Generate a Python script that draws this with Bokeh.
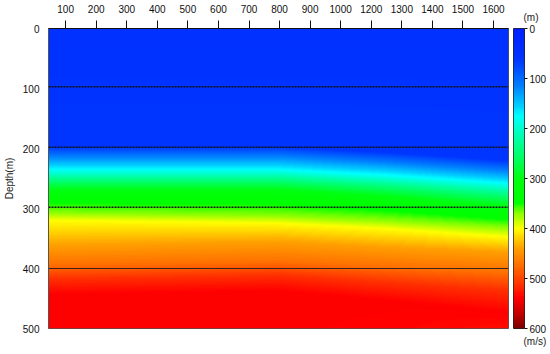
import numpy as np
from bokeh.plotting import figure
from bokeh.models import Range1d, LinearColorMapper, FixedTicker, Title, Span
from bokeh.layouts import row
from bokeh.embed import file_html
from bokeh.resources import INLINE

# ---------------- data ----------------
x_tick_values = [100, 200, 300, 400, 500, 600, 700, 800, 900, 1000, 1100, 1200, 1300, 1400, 1500]
x_tick_labels = ["100", "200", "300", "400", "500", "600", "700", "800", "900", "1000",
                 "1200", "1300", "1400", "1500", "1600"]
depth_ticks = [0, 100, 200, 300, 400, 500]
cbar_ticks = [0, 100, 200, 300, 400, 500, 600]
x_extent = [44, 1549]
depth_extent = [0, 500]
cbar_extent = [0, 600]

# interfaces (dashed) and the solid one
dashed_interfaces = [97, 198, 298]
solid_interfaces = [400]

# velocity field: depth at which each colour level is reached, at several x nodes
node_x = [44, 800, 1150, 1549]
levels = [60, 114, 174, 260, 330, 370, 400, 440, 474, 514, 540]
depth_node_a = [197, 213, 235, 257, 278, 307, 320, 362, 395, 418, 444]
depth_node_b = [197, 213, 235, 257, 278, 312, 325, 356, 390, 412, 438]
depth_node_c = [206, 223, 244, 267, 290, 320, 334, 365, 398, 424, 454]
depth_node_d = [220, 237, 258, 282, 308, 332, 348, 373, 408, 437, 475]
top_value = 50
bottom_values = [540, 540, 538, 532]

# palette stops (fraction, colour)
stop_pos = [0.0, 0.10, 0.19, 0.257, 0.29, 0.357, 0.433, 0.50, 0.58, 0.613, 0.667,
            0.733, 0.79, 0.857, 0.90, 0.957, 1.0]
stop_col = ["#0020ff", "#0035ff", "#0080ff", "#00d0ff", "#00ffff", "#00ffb0", "#00ff60",
            "#00ff10", "#00ff00", "#80ff00", "#ffff00", "#ffa000", "#ff7000", "#ff3000",
            "#ff0000", "#c00000", "#800000"]

# ---------------- build palette ----------------
def hex2rgb(h):
    return [int(h[i:i + 2], 16) for i in (1, 3, 5)]

rgb = np.array([hex2rgb(c) for c in stop_col], dtype=float)
t = np.linspace(0, 1, 256)
pal = []
for ti in t:
    r = np.interp(ti, stop_pos, rgb[:, 0])
    g = np.interp(ti, stop_pos, rgb[:, 1])
    b = np.interp(ti, stop_pos, rgb[:, 2])
    pal.append("#%02x%02x%02x" % (int(round(r)), int(round(g)), int(round(b))))

mapper = LinearColorMapper(palette=pal, low=cbar_extent[0], high=cbar_extent[1])

# ---------------- build the field image ----------------
nx, ny = 460, 300
xs = np.linspace(x_extent[0], x_extent[1], nx)
ds = np.linspace(depth_extent[0], depth_extent[1], ny)
node_depths = np.array([depth_node_a, depth_node_b, depth_node_c, depth_node_d], dtype=float)
field = np.zeros((ny, nx))
for j, xv in enumerate(xs):
    cd = [np.interp(xv, node_x, node_depths[:, k]) for k in range(len(levels))]
    bv = np.interp(xv, node_x, bottom_values)
    dd = [depth_extent[0]] + cd + [depth_extent[1]]
    vv = [top_value] + levels + [bv]
    field[:, j] = np.interp(ds, dd, vv)

FONT = "Liberation Sans"

# ---------------- main figure ----------------
p = figure(frame_width=460, frame_height=300,
           x_range=Range1d(x_extent[0], x_extent[1]),
           y_range=Range1d(depth_extent[1], depth_extent[0]),
           x_axis_location="above", toolbar_location=None, output_backend="svg",
           min_border_left=48, min_border_right=5, min_border_top=28, min_border_bottom=24)
p.image(image=[field], x=x_extent[0], y=depth_extent[0],
        dw=x_extent[1] - x_extent[0], dh=depth_extent[1] - depth_extent[0],
        color_mapper=mapper)

for d in dashed_interfaces:
    p.add_layout(Span(location=d, dimension="width", line_color="#111111",
                      line_width=1.5, line_dash="2 1"))
for d in solid_interfaces:
    p.add_layout(Span(location=d, dimension="width", line_color="#3a2418",
                      line_width=1.2))

p.grid.visible = False
p.outline_line_color = "#555555"
p.background_fill_color = "white"
p.border_fill_color = "white"

xa = p.xaxis[0]
xa.ticker = FixedTicker(ticks=x_tick_values)
xa.major_label_overrides = dict(zip(x_tick_values, x_tick_labels))
xa.major_tick_out = 8
xa.major_tick_in = 0
xa.minor_tick_line_color = None
xa.major_tick_line_color = "#111111"
xa.axis_line_color = "#111111"
xa.major_label_standoff = 8
xa.major_label_text_font = FONT
xa.major_label_text_font_size = "10px"
xa.major_label_text_color = "#111111"

ya = p.yaxis[0]
ya.ticker = FixedTicker(ticks=depth_ticks)
ya.major_tick_out = 0
ya.major_tick_in = 0
ya.minor_tick_line_color = None
ya.major_tick_line_color = None
ya.axis_line_color = "#555555"
ya.major_label_standoff = 9
ya.major_label_text_font = FONT
ya.major_label_text_font_size = "10px"
ya.major_label_text_color = "#111111"
ya.axis_label = "Depth(m)"
ya.axis_label_text_font = FONT
ya.axis_label_text_font_size = "10px"
ya.axis_label_text_font_style = "normal"
ya.axis_label_text_color = "#222222"
ya.axis_label_standoff = 5

# ---------------- colour bar figure ----------------
cb = figure(frame_width=11, frame_height=300,
            x_range=Range1d(0, 1), y_range=Range1d(cbar_extent[1], cbar_extent[0]),
            y_axis_location="right", toolbar_location=None, output_backend="svg",
            min_border_left=0, min_border_right=26, min_border_top=28, min_border_bottom=24)
grad = np.linspace(cbar_extent[0], cbar_extent[1], 300).reshape(-1, 1)
cb.image(image=[grad], x=0, y=cbar_extent[0], dw=1, dh=cbar_extent[1] - cbar_extent[0],
         color_mapper=mapper)
cb.grid.visible = False
cb.xaxis.visible = False
cb.outline_line_color = "#222222"
cb.border_fill_color = "white"
cya = cb.yaxis[0]
cya.ticker = FixedTicker(ticks=cbar_ticks)
cya.major_tick_out = 3
cya.major_tick_in = 0
cya.minor_tick_line_color = None
cya.major_tick_line_color = "#111111"
cya.axis_line_color = None
cya.major_label_standoff = 2
cya.major_label_text_font = FONT
cya.major_label_text_font_size = "10px"
cya.major_label_text_color = "#111111"

cb.add_layout(Title(text="(m)", align="left", offset=10, standoff=11,
                    text_font=FONT, text_font_size="10px", text_font_style="normal",
                    text_color="#222222"), "above")
cb.add_layout(Title(text="(m/s)", align="left", offset=10, standoff=10,
                    text_font=FONT, text_font_size="10px", text_font_style="normal",
                    text_color="#222222"), "below")

layout = row(p, cb)
open("out.html", "w").write(file_html(layout, INLINE))
